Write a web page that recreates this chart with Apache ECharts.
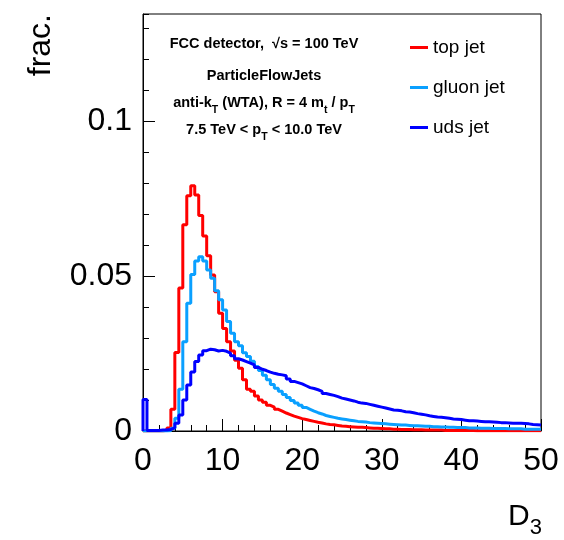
<!DOCTYPE html>
<html>
<head>
<meta charset="utf-8">
<script src="https://cdn.jsdelivr.net/npm/echarts@6.0.0/dist/echarts.min.js"></script>
<style>
html,body{margin:0;padding:0;background:#fff;}
#chart{width:564px;height:540px;}
</style>
</head>
<body>
<div id="chart"></div>
<script>
// Histogram: 100 bins of width 0.5 on D3 in [0, 50]
const binWidth = 0.5;
const xMin = 0, xMax = 50;
const yMin = 0, yMax = 0.1345;
const xTickLabels = ['0', '10', '20', '30', '40', '50'];
const yTickLabels = ['0', '0.05', '0.1'];
const seriesNames = ['top jet', 'gluon jet', 'uds jet'];

const topJet = [
  0, 0, 0, 0, 0, 0.0002, 0.0010, 0.0070, 0.0253, 0.0461,
  0.0665, 0.0759, 0.0791, 0.0761, 0.0695, 0.0629, 0.0565, 0.0503, 0.0449, 0.0380,
  0.0331, 0.0288, 0.0258, 0.0228, 0.0202, 0.0165, 0.0135, 0.0128, 0.0113, 0.0100,
  0.0093, 0.0083, 0.0077, 0.0070, 0.0064, 0.0058, 0.0053, 0.0048, 0.0044, 0.0040,
  0.0037, 0.0034, 0.0031, 0.0028, 0.0026, 0.0023, 0.0021, 0.0020, 0.0018, 0.0016,
  0.0015, 0.0014, 0.0013, 0.0012, 0.0012, 0.0011, 0.0010, 0.0009, 0.0009, 0.0008,
  0.0007, 0.0007, 0.0006, 0.0006, 0.0005, 0.0005, 0.0005, 0.0004, 0.0004, 0.0004,
  0.0003, 0.0003, 0.0003, 0.0003, 0.0003, 0.0002, 0.0002, 0.0002, 0.0002, 0.0002,
  0.0002, 0.0002, 0.0002, 0.0001, 0.0001, 0.0001, 0.0001, 0.0001, 0.0001, 0.0001,
  0.0001, 0.0001, 0.0001, 0.0001, 0.0001, 0.0001, 0.0001, 0.0001, 0.0001, 0.0001
];

const gluonJet = [
  0, 0, 0, 0, 0, 0, 0.0001, 0.0009, 0.0041, 0.0135,
  0.0288, 0.0412, 0.0505, 0.0548, 0.0562, 0.0548, 0.0519, 0.0493, 0.0452, 0.0423,
  0.0390, 0.0353, 0.0315, 0.0288, 0.0275, 0.0252, 0.0240, 0.0225, 0.0208, 0.0195,
  0.0180, 0.0165, 0.0150, 0.0138, 0.0128, 0.0118, 0.0108, 0.0098, 0.0090, 0.0083,
  0.0076, 0.0070, 0.0064, 0.0059, 0.0055, 0.0050, 0.0047, 0.0044, 0.0041, 0.0039,
  0.0037, 0.0035, 0.0033, 0.0031, 0.0030, 0.0029, 0.0027, 0.0026, 0.0025, 0.0024,
  0.0023, 0.0022, 0.0021, 0.0020, 0.0019, 0.0019, 0.0018, 0.0017, 0.0017, 0.0016,
  0.0015, 0.0015, 0.0014, 0.0014, 0.0013, 0.0013, 0.0012, 0.0012, 0.0011, 0.0011,
  0.0011, 0.0010, 0.0010, 0.0010, 0.0009, 0.0009, 0.0009, 0.0008, 0.0008, 0.0008,
  0.0008, 0.0007, 0.0007, 0.0007, 0.0007, 0.0006, 0.0006, 0.0006, 0.0006, 0.0006
];

const udsJet = [
  0.0102, 0.0002, 0.0002, 0.0002, 0.0003, 0.0003, 0.0005, 0.0010, 0.0025, 0.0052,
  0.0100, 0.0148, 0.0190, 0.0224, 0.0245, 0.0259, 0.0264, 0.0262, 0.0258, 0.0260,
  0.0257, 0.0251, 0.0243, 0.0233, 0.0229, 0.0224, 0.0219, 0.0213, 0.0205, 0.0199,
  0.0195, 0.0190, 0.0186, 0.0183, 0.0181, 0.0178, 0.0168, 0.0160, 0.0156, 0.0152,
  0.0146, 0.0140, 0.0137, 0.0133, 0.0128, 0.0121, 0.0118, 0.0115, 0.0111, 0.0106,
  0.0103, 0.0100, 0.0097, 0.0093, 0.0090, 0.0089, 0.0086, 0.0083, 0.0080, 0.0077,
  0.0074, 0.0071, 0.0068, 0.0067, 0.0065, 0.0062, 0.0061, 0.0059, 0.0056, 0.0054,
  0.0052, 0.0049, 0.0047, 0.0045, 0.0044, 0.0043, 0.0041, 0.0039, 0.0038, 0.0037,
  0.0035, 0.0033, 0.0033, 0.0032, 0.0031, 0.0030, 0.0030, 0.0029, 0.0028, 0.0027,
  0.0027, 0.0026, 0.0025, 0.0025, 0.0025, 0.0024, 0.0023, 0.0021, 0.0020, 0.0019
];

const colors = ['#ff0000', '#0aa0ff', '#0000ff'];

function stepData(vals) {
  const pts = [[xMin, 0]];
  vals.forEach(function (v, i) { pts.push([xMin + i * binWidth, v]); });
  pts.push([xMin + vals.length * binWidth, vals[vals.length - 1]]);
  return pts;
}

const FONT = 'Liberation Sans, Arial, Helvetica, sans-serif';

const chart = echarts.init(document.getElementById('chart'), null, {renderer: 'canvas'});

const infoLines = [
  '{b|FCC detector,  \u221As = 100 TeV}',
  '{b|ParticleFlowJets}',
  '{b|anti-k}{s|T}{b| (WTA), R = 4 m}{s|t}{b| / p}{s|T}',
  '{b|7.5 TeV < p}{s|T}{b| < 10.0 TeV}'
];
const infoTop = [36.5, 68, 95.5, 122.5];
const infoRich = {
  b: {fontSize: 14.5, fontWeight: 'bold', fontFamily: FONT, color: '#000', lineHeight: 16, verticalAlign: 'top'},
  s: {fontSize: 10.5, fontWeight: 'bold', fontFamily: FONT, color: '#000', lineHeight: 11, padding: [9, 0, 0, 0], verticalAlign: 'top'}
};

const graphics = infoLines.map(function (t, i) {
  return {
    type: 'text', x: 264, y: infoTop[i], z: 100,
    style: {text: t, rich: infoRich, align: 'center', verticalAlign: 'top'}
  };
});
graphics.push({
  type: 'text', x: 41, y: 14, rotation: Math.PI / 2, z: 100,
  style: {text: 'frac.', fontSize: 32, fontFamily: FONT, fill: '#000', align: 'right', verticalAlign: 'middle'}
});
graphics.push({
  type: 'text', x: 508, y: 501.5, z: 100,
  style: {
    text: '{d|D}{n|3}', align: 'left', verticalAlign: 'top',
    rich: {
      d: {fontSize: 30, fontFamily: FONT, color: '#000', lineHeight: 30, verticalAlign: 'top'},
      n: {fontSize: 22, fontFamily: FONT, color: '#000', lineHeight: 22, padding: [15, 0, 0, 0], verticalAlign: 'top'}
    }
  }
});

const option = {
  animation: false,
  backgroundColor: '#fff',
  grid: {left: 143, right: 23, top: 14, bottom: 109, show: true, borderColor: '#000', borderWidth: 1, backgroundColor: 'transparent'},
  legend: {
    data: seriesNames, orient: 'vertical', left: 410, top: 38, padding: 0,
    itemWidth: 18, itemHeight: 3, itemGap: 21, icon: 'rect',
    textStyle: {fontSize: 19, fontFamily: FONT, color: '#000'}
  },
  xAxis: {
    type: 'value', min: xMin, max: xMax, interval: 10,
    axisLine: {lineStyle: {color: '#000', width: 1}},
    axisTick: {inside: true, length: 12, lineStyle: {color: '#000', width: 1}},
    minorTick: {show: true, splitNumber: 5, length: 6, lineStyle: {color: '#000', width: 1}},
    splitLine: {show: false},
    axisLabel: {
      fontSize: 32, fontFamily: FONT, color: '#000', margin: 14,
      formatter: function (v) { return xTickLabels[Math.round(v / 10)]; }
    }
  },
  yAxis: [{
    type: 'value', min: yMin, max: yMax, interval: 0.05,
    axisLine: {show: true, lineStyle: {color: '#000', width: 1}},
    axisTick: {inside: true, length: 12, lineStyle: {color: '#000', width: 1}},
    splitLine: {show: false},
    axisLabel: {
      fontSize: 32, fontFamily: FONT, color: '#000', margin: 11, showMaxLabel: false,
      formatter: function (v) {
        const i = Math.round(v / 0.05);
        return (Math.abs(v - i * 0.05) < 1e-9 && i < yTickLabels.length) ? yTickLabels[i] : '';
      }
    }
  }, {
    type: 'value', min: yMin, max: yMax, interval: 0.01, position: 'left',
    axisLine: {show: false},
    axisTick: {show: true, inside: true, length: 6, lineStyle: {color: '#000', width: 1}},
    axisLabel: {show: false},
    splitLine: {show: false}
  }],
  series: [topJet, gluonJet, udsJet].map(function (vals, i) {
    return {
      name: seriesNames[i], type: 'line', step: 'end', yAxisIndex: 0,
      data: stepData(vals), showSymbol: false, symbol: 'none',
      lineStyle: {color: colors[i], width: 3}, itemStyle: {color: colors[i]},
      clip: true
    };
  }),
  graphic: graphics
};
chart.setOption(option);
</script>
</body>
</html>
